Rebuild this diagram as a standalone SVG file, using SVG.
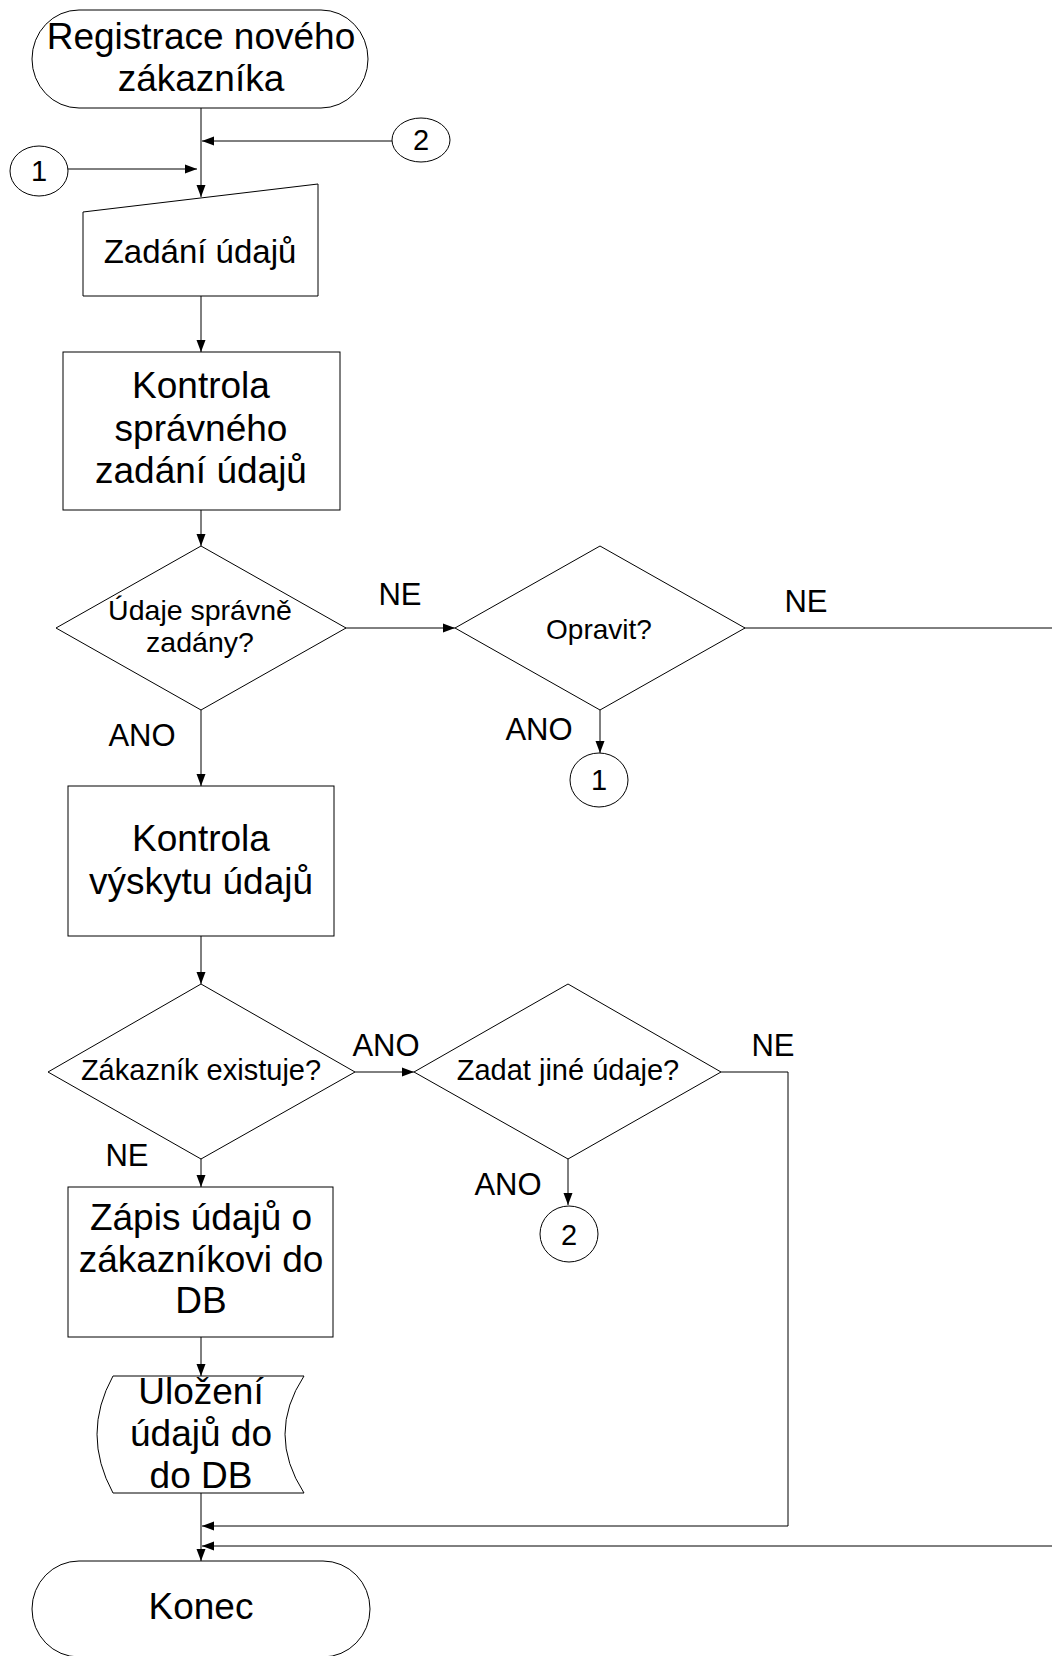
<svg xmlns="http://www.w3.org/2000/svg" width="1052" height="1656" viewBox="0 0 1052 1656" font-family="'Liberation Sans', Arial, Helvetica, sans-serif">
  <style>
    .shape { fill: #fff; stroke: #000; stroke-width: 1; }
    .conn { fill: none; stroke: #000; stroke-width: 1; }
    text { font-family: 'Liberation Sans', Arial, Helvetica, sans-serif; fill: #000; text-anchor: middle; }
    .big { font-size: 37px; }
    .mid { font-size: 29px; }
    .lbl { font-size: 31px; }
    .num { font-size: 29px; }
  </style>
  <defs>
    <marker id="ah" markerWidth="12" markerHeight="10" refX="12" refY="5" orient="auto" markerUnits="userSpaceOnUse">
      <path d="M0,0.5 L12,5 L0,9.5 z" fill="#000"/>
    </marker>
  </defs>
  <rect width="1052" height="1656" fill="#fff"/>

  <!-- connectors -->
  <g id="connectors" class="conn" marker-end="url(#ah)">
    <path d="M201,108 V197"/>
    <path d="M392,141 H202"/>
    <path d="M68,169 H197"/>
    <path d="M201,296 V352"/>
    <path d="M201,510 V546"/>
    <path d="M345,628 H455"/>
    <path d="M744,628 H1052" marker-end="none"/>
    <path d="M600,710 V753"/>
    <path d="M201,710 V786"/>
    <path d="M201,936 V984"/>
    <path d="M355,1072 H414"/>
    <path d="M721,1072 H788 V1526 H202"/>
    <path d="M1052,1546 H202"/>
    <path d="M568,1158 V1205"/>
    <path d="M201,1158 V1187"/>
    <path d="M201,1337 V1376"/>
    <path d="M201,1493 V1561"/>
  </g>

  <!-- branch labels -->
  <g id="labels" class="lbl" font-family="'Liberation Sans', Arial, sans-serif">
    <text x="400" y="605">NE</text>
    <text x="806" y="612">NE</text>
    <text x="142" y="746">ANO</text>
    <text x="539" y="740">ANO</text>
    <text x="386" y="1056">ANO</text>
    <text x="773" y="1056">NE</text>
    <text x="127" y="1166">NE</text>
    <text x="508" y="1195">ANO</text>
  </g>

  <g id="start">
    <rect class="shape" x="32" y="10" width="336" height="98" rx="47" ry="49"/>
    <text class="big" x="201" y="49">Registrace nového</text>
    <text class="big" x="201" y="91">zákazníka</text>
  </g>

  <g id="conn2-top">
    <ellipse class="shape" cx="421" cy="140" rx="29" ry="22"/>
    <text class="num" x="421" y="150">2</text>
  </g>

  <g id="conn1-top">
    <ellipse class="shape" cx="39" cy="171" rx="29" ry="25"/>
    <text class="num" x="39" y="181">1</text>
  </g>

  <g id="input">
    <polygon class="shape" points="83,212 318,184 318,296 83,296"/>
    <text x="200" y="263" style="font-size:33px">Zadání údajů</text>
  </g>

  <g id="check-input">
    <rect class="shape" x="63" y="352" width="277" height="158"/>
    <text class="big" x="201" y="398">Kontrola</text>
    <text class="big" x="201" y="441">správného</text>
    <text class="big" x="201" y="483">zadání údajů</text>
  </g>

  <g id="decision-valid">
    <polygon class="shape" points="201,546 346,628 201,710 56,628"/>
    <text x="200" y="620" style="font-size:28.5px">Údaje správně</text>
    <text x="200" y="652" style="font-size:28.5px">zadány?</text>
  </g>

  <g id="decision-fix">
    <polygon class="shape" points="600,546 745,628 600,710 455,628"/>
    <text x="599" y="639" style="font-size:28px">Opravit?</text>
  </g>

  <g id="conn1-bottom">
    <ellipse class="shape" cx="599" cy="780" rx="29" ry="27"/>
    <text class="num" x="599" y="790">1</text>
  </g>

  <g id="check-exists">
    <rect class="shape" x="68" y="786" width="266" height="150"/>
    <text class="big" x="201" y="851">Kontrola</text>
    <text class="big" x="201" y="894">výskytu údajů</text>
  </g>

  <g id="decision-exists">
    <polygon class="shape" points="201,984 355,1072 201,1159 48,1072"/>
    <text class="mid" x="201" y="1080">Zákazník existuje?</text>
  </g>

  <g id="decision-other">
    <polygon class="shape" points="568,984 721,1072 568,1159 414,1072"/>
    <text class="mid" x="568" y="1080">Zadat jiné údaje?</text>
  </g>

  <g id="conn2-bottom">
    <ellipse class="shape" cx="569" cy="1234" rx="29" ry="28"/>
    <text class="num" x="569" y="1245">2</text>
  </g>

  <g id="write-db">
    <rect class="shape" x="68" y="1187" width="265" height="150"/>
    <text class="big" x="201" y="1230">Zápis údajů o</text>
    <text class="big" x="201" y="1272">zákazníkovi do</text>
    <text class="big" x="201" y="1313">DB</text>
  </g>

  <g id="store-db">
    <path class="shape" d="M113,1376 H304 Q266,1434 304,1493 H113 Q81,1434 113,1376 Z"/>
    <text class="big" x="201" y="1404">Uložení</text>
    <text class="big" x="201" y="1446">údajů do</text>
    <text class="big" x="201" y="1488">do DB</text>
  </g>

  <g id="end">
    <rect class="shape" x="32" y="1561" width="338" height="96" rx="47" ry="48"/>
    <text class="big" x="201" y="1619">Konec</text>
  </g>
</svg>
